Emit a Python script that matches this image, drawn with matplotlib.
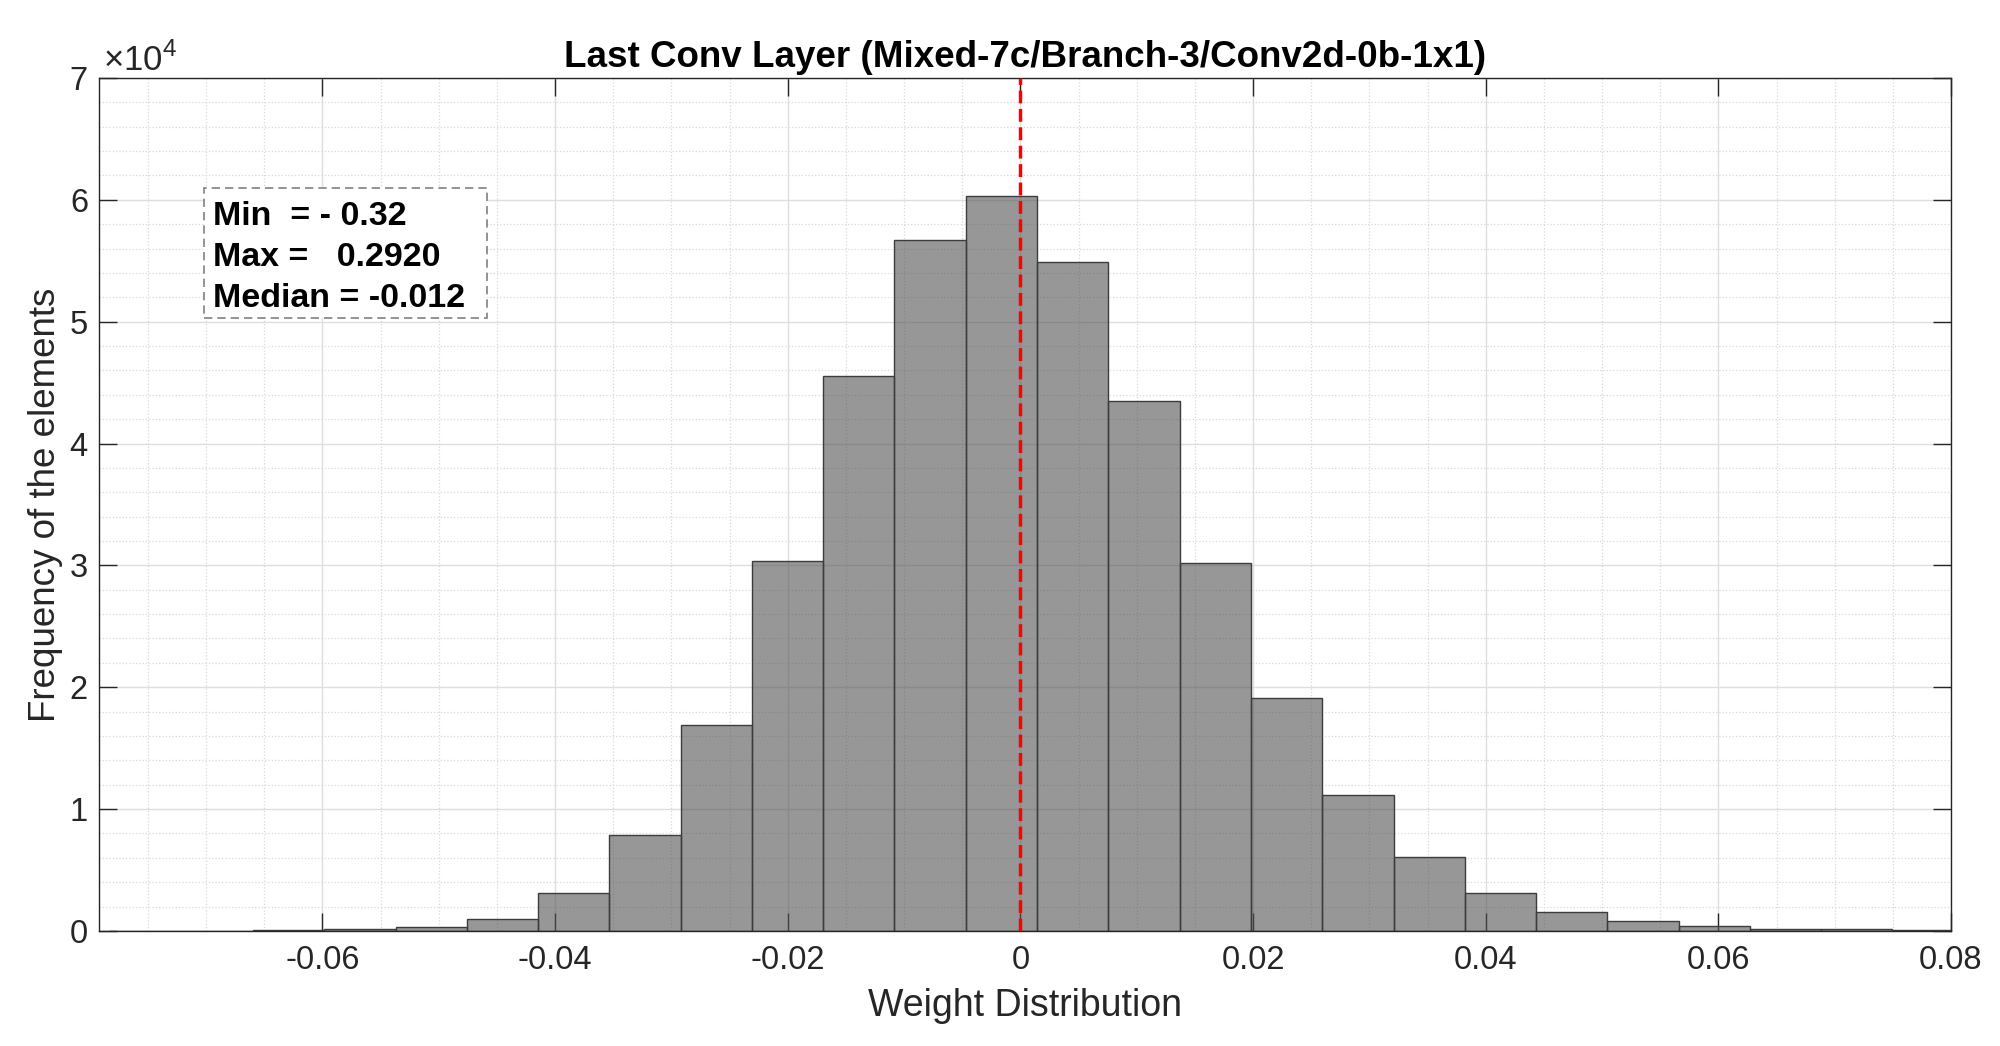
import numpy as np
import matplotlib.pyplot as plt
from matplotlib.patches import Rectangle
from matplotlib.ticker import MultipleLocator, FuncFormatter

plt.rcParams['font.family'] = ['Liberation Sans', 'DejaVu Sans']
plt.rcParams['mathtext.fontset'] = 'custom'
plt.rcParams['mathtext.rm'] = 'Liberation Sans'

# histogram bins (weights of the last conv layer)
bin_edges = [-0.0783, -0.0721, -0.0660, -0.0599, -0.0537, -0.0476, -0.0415,
             -0.0354, -0.0292, -0.0231, -0.0170, -0.0109, -0.0047, 0.0014,
             0.0075, 0.0137, 0.0198, 0.0259, 0.0321, 0.0382, 0.0443, 0.0504,
             0.0566, 0.0627, 0.0688, 0.0749, 0.0811]
counts = [10, 20, 50, 140, 330, 1000, 3100, 7900, 16900, 30330, 45500, 56700,
          60350, 54900, 43450, 30160, 19140, 11160, 6050, 3100, 1530, 850,
          390, 190, 160, 80]

median_line = 0.0
stats_lines = ["Min  = - 0.32", "Max =   0.2920", "Median = -0.012"]

title = "Last Conv Layer (Mixed-7c/Branch-3/Conv2d-0b-1x1)"
xlabel = "Weight Distribution"
ylabel = "Frequency of the elements"

fig = plt.figure(figsize=(20, 10.46), dpi=100)
ax = fig.add_axes([0.0495, 0.1100, 0.926, 0.8155])

edges = np.array(bin_edges)
ax.bar(edges[:-1], counts, width=np.diff(edges), align='edge',
       facecolor=(0.32, 0.32, 0.32, 0.6), edgecolor='#3c3c3c', linewidth=1.0,
       zorder=2)

ax.axvline(median_line, color='red', linestyle='--', linewidth=2.5, zorder=3)

ax.set_xlim(-0.0792, 0.08)
ax.set_ylim(0, 70000)
ax.xaxis.set_major_locator(MultipleLocator(0.02))
ax.xaxis.set_minor_locator(MultipleLocator(0.005))
ax.yaxis.set_major_locator(MultipleLocator(10000))
ax.yaxis.set_minor_locator(MultipleLocator(2000))
ax.xaxis.set_major_formatter(FuncFormatter(lambda v, p: "0" if abs(v) < 1e-9 else f"{v:g}"))
ax.yaxis.set_major_formatter(FuncFormatter(lambda v, p: f"{v / 1e4:g}"))

ax.grid(which='major', color='#dedede', linestyle='-', linewidth=1.0, zorder=0)
ax.grid(which='minor', color='#d8d8d8', linestyle=':', linewidth=0.9, zorder=0)
ax.set_axisbelow(True)

ax.tick_params(which='major', direction='in', length=13, width=1.0,
               top=True, right=True, color='#262626', labelcolor='#262626',
               labelsize=23.5)
ax.tick_params(axis='x', which='major', pad=10)
ax.tick_params(axis='y', which='major', pad=8)
ax.tick_params(which='minor', length=0)
for s in ax.spines.values():
    s.set_color('#262626')
    s.set_linewidth(1.0)

ax.set_title(title, fontsize=26.5, fontweight='bold', pad=8)
ax.set_xlabel(xlabel, fontsize=27, color='#262626', labelpad=9)
ax.set_ylabel(ylabel, fontsize=26.5, color='#262626', labelpad=5)

ax.text(0.002, 1.0, r'$\times10^{4}$', transform=ax.transAxes,
        fontsize=25, color='#262626', ha='left', va='bottom')

# stats box
ax.add_patch(Rectangle((0.0567, 0.7186), 0.1528, 0.1524, transform=ax.transAxes,
                       facecolor='white', edgecolor='#808080', linewidth=1.2,
                       linestyle=(0, (5, 3)), zorder=4))
for line, y in zip(stats_lines, [0.8277, 0.7800, 0.7319]):
    ax.text(0.0616, y, line, transform=ax.transAxes, fontsize=24.5,
            fontweight='bold', va='baseline', ha='left', zorder=5)

fig.savefig("out.png", dpi=100)
